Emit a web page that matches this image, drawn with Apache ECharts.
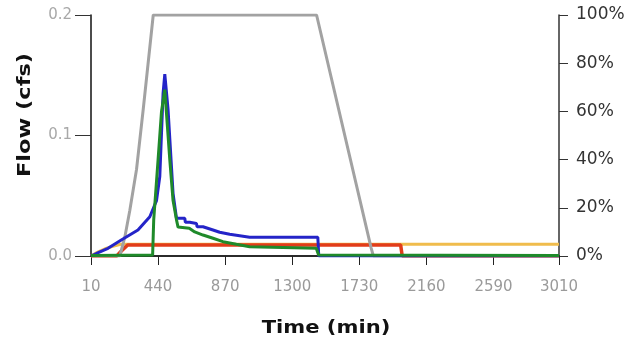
<!DOCTYPE html>
<html><head><meta charset="utf-8">
<script src="https://cdn.jsdelivr.net/npm/echarts@6/dist/echarts.min.js"></script>
<style>html,body{margin:0;padding:0;background:#fff}#c{width:634px;height:345px}</style>
</head><body><div id="c"></div>
<script>
// Tick labels
const xTicks = [10, 440, 870, 1300, 1730, 2160, 2590, 3010];
const yFlowTicks = [0, 0.1, 0.2];
const yPctTicks = [0, 20, 40, 60, 80, 100];

// Gray series (percent, right axis)
const grayTime = [10, 170, 195, 227, 259, 302, 345, 409, 1456, 1806, 1820, 3010];
const grayPct  = [0, 0, 0, 7.9, 19, 36, 61, 100, 100, 3.3, 0, 0];

// Blue series (flow, cfs)
const blueTime = [10, 60, 119, 204, 311, 387, 430, 451, 472, 483, 504, 536, 558, 611, 615, 643, 686, 690, 728, 792, 835, 899, 963, 1027, 1464, 1470, 3010];
const blueFlow = [0, 0.003, 0.0064, 0.0133, 0.0216, 0.0326, 0.046, 0.066, 0.135, 0.151, 0.1216, 0.052, 0.0313, 0.0313, 0.028, 0.028, 0.027, 0.0243, 0.0243, 0.0216, 0.0197, 0.018, 0.0168, 0.0155, 0.0155, 0, 0];

// Green series (flow, cfs)
const greenTime = [10, 405, 412, 440, 462, 483, 515, 536, 558, 568, 640, 675, 728, 792, 856, 942, 1027, 1454, 1469, 3010];
const greenFlow = [0.0005, 0.0008, 0.03, 0.08, 0.12, 0.138, 0.08, 0.046, 0.03, 0.024, 0.023, 0.020, 0.0174, 0.0147, 0.0119, 0.0097, 0.0077, 0.0064, 0.0008, 0.0005];

// Red series (flow, cfs)
const redTime = [10, 175, 200, 245, 1995, 2005, 3010];
const redFlow = [0, 0, 0.0035, 0.0092, 0.0092, 0, 0];

// Orange series (flow, cfs)
const orangeTime = [10, 50, 100, 150, 200, 3010];
const orangeFlow = [0, 0.003, 0.006, 0.008, 0.0098, 0.0098];

const pairs = (t, v) => t.map((x, i) => [x, v[i]]);

const chart = echarts.init(document.getElementById('c'), null, {renderer: 'canvas'});
const font = 'DejaVu Sans, Verdana, sans-serif';
const line = (name, data, color, yIdx, w) => ({
  name, type: 'line', data, yAxisIndex: yIdx, showSymbol: false, symbol: 'none',
  lineStyle: {color, width: w}, itemStyle: {color}, animation: false, z: 2
});

chart.setOption({
  animation: false,
  grid: {left: 91, right: 75, top: 15, bottom: 89, containLabel: false},
  xAxis: [{
    type: 'value', min: 10, max: 3010, position: 'bottom',
    axisLine: {show: true, lineStyle: {color: '#111', width: 1.5}},
    axisTick: {show: true, customValues: xTicks, length: 9, inside: false, lineStyle: {color: '#222', width: 1}},
    axisLabel: {customValues: xTicks, color: '#9a9a9a', fontSize: 15, fontFamily: font, margin: 24, formatter: v => String(v)},
    splitLine: {show: false}
  }, {
    type: 'value', min: 10, max: 3010, position: 'top',
    axisLine: {show: true, lineStyle: {color: '#222', width: 1.5}},
    axisTick: {show: false}, axisLabel: {show: false}, splitLine: {show: false}
  }],
  yAxis: [{
    type: 'value', min: 0, max: 0.2, interval: 0.1, position: 'left',
    axisLine: {show: true, lineStyle: {color: '#111', width: 1.5}},
    axisTick: {show: true, length: 16, lineStyle: {color: '#333'}},
    axisLabel: {color: '#a8a8a8', fontSize: 15, fontFamily: font, margin: 19, formatter: v => v.toFixed(1)},
    splitLine: {show: false}
  }, {
    type: 'value', min: 0, max: 100, interval: 20, position: 'right',
    axisLine: {show: true, lineStyle: {color: '#333', width: 1.5}},
    axisTick: {show: true, length: 9, lineStyle: {color: '#333'}},
    axisLabel: {color: '#333', fontSize: 17, fontFamily: font, margin: 17, formatter: '{value}%'},
    splitLine: {show: false}
  }],
  graphic: [{
    type: 'text', x: 25, y: 115, rotation: Math.PI / 2, scaleX: 1.25,
    style: {text: 'Flow (cfs)', font: 'bold 18px ' + font, fill: '#111', align: 'center', verticalAlign: 'middle'}
  }, {
    type: 'text', x: 326, y: 328, scaleX: 1.17,
    style: {text: 'Time (min)', font: 'bold 18px ' + font, fill: '#111', align: 'center', verticalAlign: 'middle'}
  }],
  series: [
    line('orange', pairs(orangeTime, orangeFlow), '#f0bc4c', 0, 3),
    line('red', pairs(redTime, redFlow), '#e23c1a', 0, 3.5),
    line('gray', pairs(grayTime, grayPct), '#a2a2a2', 1, 3),
    line('blue', pairs(blueTime, blueFlow), '#2424c8', 0, 3),
    line('green', pairs(greenTime, greenFlow), '#1f8a2a', 0, 3)
  ]
});
</script></body></html>
